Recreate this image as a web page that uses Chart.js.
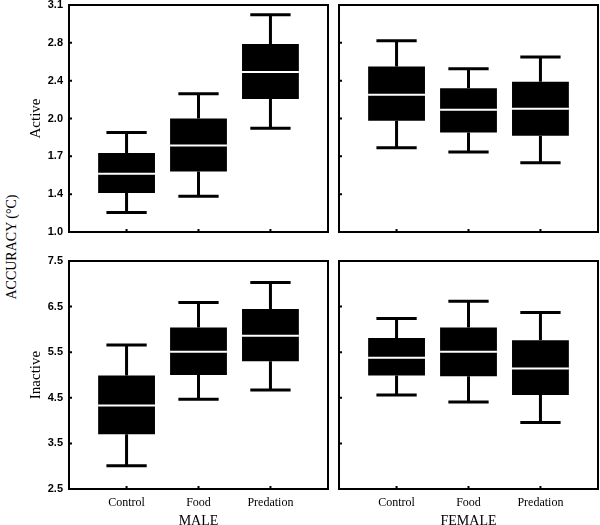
<!DOCTYPE html>
<html>
<head>
<meta charset="utf-8">
<script src="https://cdn.jsdelivr.net/npm/chart.js@4.4.1/dist/chart.umd.min.js"></script>
<style>
html,body{margin:0;padding:0;background:#fff;width:600px;height:525px;overflow:hidden;position:relative;}
.panel{position:absolute;}
#yTitle{position:absolute;left:12px;top:247px;transform:translate(-50%,-50%) rotate(-90deg);
font:14px "Liberation Serif","Times New Roman",serif;white-space:nowrap;color:#000;}
</style>
</head>
<body>
<div class="panel" style="left:22px;top:0;width:313px;height:240px"><canvas id="tl"></canvas></div>
<div class="panel" style="left:330px;top:0;width:275px;height:240px"><canvas id="tr"></canvas></div>
<div class="panel" style="left:22px;top:250px;width:313px;height:280px"><canvas id="bl"></canvas></div>
<div class="panel" style="left:330px;top:250px;width:275px;height:280px"><canvas id="br"></canvas></div>
<div id="yTitle">ACCURACY (°C)</div>
<script>
const categories = ['Control', 'Food', 'Predation'];

// Active, ticks evenly spaced, labels rounded
const activeTickValues = [1.0, 1.35, 1.7, 2.05, 2.4, 2.75, 3.1];
const activeTickLabels = ['1.0', '1.4', '1.7', '2.0', '2.4', '2.8', '3.1'];
const inactiveTickValues = [2.5, 3.5, 4.5, 5.5, 6.5, 7.5];
const inactiveTickLabels = ['2.5', '3.5', '4.5', '5.5', '6.5', '7.5'];

// MALE active
const maleActiveMin = [1.18, 1.33, 1.96];
const maleActiveQ1 = [1.36, 1.56, 2.23];
const maleActiveMed = [1.54, 1.80, 2.48];
const maleActiveQ3 = [1.73, 2.05, 2.74];
const maleActiveMax = [1.92, 2.28, 3.01];

// FEMALE active
const femaleActiveMin = [1.78, 1.74, 1.64];
const femaleActiveQ1 = [2.03, 1.92, 1.89];
const femaleActiveMed = [2.27, 2.13, 2.14];
const femaleActiveQ3 = [2.53, 2.33, 2.39];
const femaleActiveMax = [2.77, 2.51, 2.62];

// MALE inactive
const maleInactiveMin = [3.01, 4.47, 4.67];
const maleInactiveQ1 = [3.70, 5.00, 5.30];
const maleInactiveMed = [4.33, 5.51, 5.86];
const maleInactiveQ3 = [4.99, 6.04, 6.45];
const maleInactiveMax = [5.66, 6.59, 7.03];

// FEMALE inactive
const femaleInactiveMin = [4.56, 4.41, 3.96];
const femaleInactiveQ1 = [4.99, 4.97, 4.56];
const femaleInactiveMed = [5.38, 5.51, 5.14];
const femaleInactiveQ3 = [5.81, 6.04, 5.76];
const femaleInactiveMax = [6.24, 6.62, 6.37];

const serif = '"Liberation Serif","Times New Roman",serif';
const sans = '"Liberation Sans",Arial,sans-serif';

// whiskers, median line, frame and inward ticks
const boxPlugin = {
  id: 'boxExtras',
  afterDatasetsDraw(chart) {
    const ctx = chart.ctx;
    const xs = chart.scales.x;
    const ys = chart.scales.y;
    const st = chart.options.plugins.boxExtras;
    const meta = chart.getDatasetMeta(0);
    ctx.save();
    st.min.forEach((lo, i) => {
      const cx = xs.getPixelForValue(i);
      const c0 = xs.getPixelForValue(i - 0.28);
      const c1 = xs.getPixelForValue(i + 0.28);
      ctx.strokeStyle = '#000';
      ctx.lineWidth = 3;
      ctx.beginPath();
      ctx.moveTo(cx, ys.getPixelForValue(st.max[i]));
      ctx.lineTo(cx, ys.getPixelForValue(st.q3[i]));
      ctx.moveTo(cx, ys.getPixelForValue(st.q1[i]));
      ctx.lineTo(cx, ys.getPixelForValue(lo));
      ctx.moveTo(c0, ys.getPixelForValue(st.max[i]));
      ctx.lineTo(c1, ys.getPixelForValue(st.max[i]));
      ctx.moveTo(c0, ys.getPixelForValue(lo));
      ctx.lineTo(c1, ys.getPixelForValue(lo));
      ctx.stroke();
      const bar = meta.data[i];
      const ym = ys.getPixelForValue(st.med[i]);
      ctx.strokeStyle = '#fff';
      ctx.lineWidth = 2;
      ctx.beginPath();
      ctx.moveTo(bar.x - bar.width / 2, ym);
      ctx.lineTo(bar.x + bar.width / 2, ym);
      ctx.stroke();
    });
    const a = chart.chartArea;
    ctx.strokeStyle = '#000';
    ctx.lineWidth = 2;
    ctx.strokeRect(a.left, a.top, a.right - a.left, a.bottom - a.top);
    ctx.beginPath();
    ys.ticks.forEach(t => {
      const y = ys.getPixelForValue(t.value);
      ctx.moveTo(a.left, y);
      ctx.lineTo(a.left + 3, y);
    });
    xs.ticks.forEach(t => {
      const x = xs.getPixelForValue(t.value);
      ctx.moveTo(x, a.bottom);
      ctx.lineTo(x, a.bottom - 3);
    });
    ctx.stroke();
    ctx.restore();
  }
};

function makePanel(id, stats, tickValues, tickLabels, opts) {
  const ctx = document.getElementById(id).getContext('2d');
  return new Chart(ctx, {
    type: 'bar',
    data: {
      datasets: [{
        data: categories.map((c, i) => ({ x: i, y: [stats.q1[i], stats.q3[i]] })),
        backgroundColor: '#000',
        borderWidth: 0,
        barPercentage: 0.79,
        categoryPercentage: 1
      }]
    },
    options: {
      responsive: true,
      maintainAspectRatio: false,
      animation: false,
      layout: { padding: opts.padding },
      plugins: {
        legend: { display: false },
        tooltip: { enabled: false },
        boxExtras: stats
      },
      scales: {
        x: {
          type: 'linear',
          offset: false,
          min: -0.8,
          max: 2.8,
          afterBuildTicks: s => { s.ticks = categories.map((c, i) => ({ value: i })); },
          afterFit: s => { s.height = opts.xHeight; s.paddingLeft = 0; s.paddingRight = 0; },
          grid: { display: false, drawTicks: false, offset: false },
          border: { display: false },
          ticks: {
            display: opts.xLabels,
            padding: 7,
            color: '#000',
            font: { family: serif, size: 12 },
            callback: v => categories[v]
          },
          title: {
            display: !!opts.xTitle,
            text: opts.xTitle || '',
            color: '#000',
            font: { family: serif, size: 14 },
            padding: { top: 0, bottom: 0 }
          }
        },
        y: {
          type: 'linear',
          min: tickValues[0],
          max: tickValues[tickValues.length - 1],
          afterBuildTicks: s => { s.ticks = tickValues.map(v => ({ value: v })); },
          afterFit: s => { s.width = opts.yWidth; s.paddingTop = 0; s.paddingBottom = 0; },
          grid: { display: false, drawTicks: false },
          border: { display: false },
          ticks: {
            display: opts.yLabels,
            padding: 6,
            color: '#000',
            font: { family: sans, size: 11, weight: 'bold' },
            callback: (v, i) => tickLabels[i]
          },
          title: {
            display: !!opts.yTitle,
            text: opts.yTitle || '',
            color: '#000',
            font: { family: serif, size: 15 },
            padding: { top: 5, bottom: 0 }
          }
        }
      }
    },
    plugins: [boxPlugin]
  });
}

makePanel('tl',
  { min: maleActiveMin, q1: maleActiveQ1, med: maleActiveMed, q3: maleActiveQ3, max: maleActiveMax },
  activeTickValues, activeTickLabels,
  { padding: { top: 5, right: 7, left: 0, bottom: 0 }, xHeight: 8, yWidth: 47,
    xLabels: false, yLabels: true, yTitle: 'Active' });

makePanel('tr',
  { min: femaleActiveMin, q1: femaleActiveQ1, med: femaleActiveMed, q3: femaleActiveQ3, max: femaleActiveMax },
  activeTickValues, activeTickLabels,
  { padding: { top: 5, right: 7, left: 0, bottom: 0 }, xHeight: 8, yWidth: 9,
    xLabels: false, yLabels: false });

makePanel('bl',
  { min: maleInactiveMin, q1: maleInactiveQ1, med: maleInactiveMed, q3: maleInactiveQ3, max: maleInactiveMax },
  inactiveTickValues, inactiveTickLabels,
  { padding: { top: 11, right: 7, left: 0, bottom: 0 }, xHeight: 41, yWidth: 47,
    xLabels: true, yLabels: true, yTitle: 'Inactive', xTitle: 'MALE' });

makePanel('br',
  { min: femaleInactiveMin, q1: femaleInactiveQ1, med: femaleInactiveMed, q3: femaleInactiveQ3, max: femaleInactiveMax },
  inactiveTickValues, inactiveTickLabels,
  { padding: { top: 11, right: 7, left: 0, bottom: 0 }, xHeight: 41, yWidth: 9,
    xLabels: true, yLabels: false, xTitle: 'FEMALE' });
</script>
</body>
</html>
